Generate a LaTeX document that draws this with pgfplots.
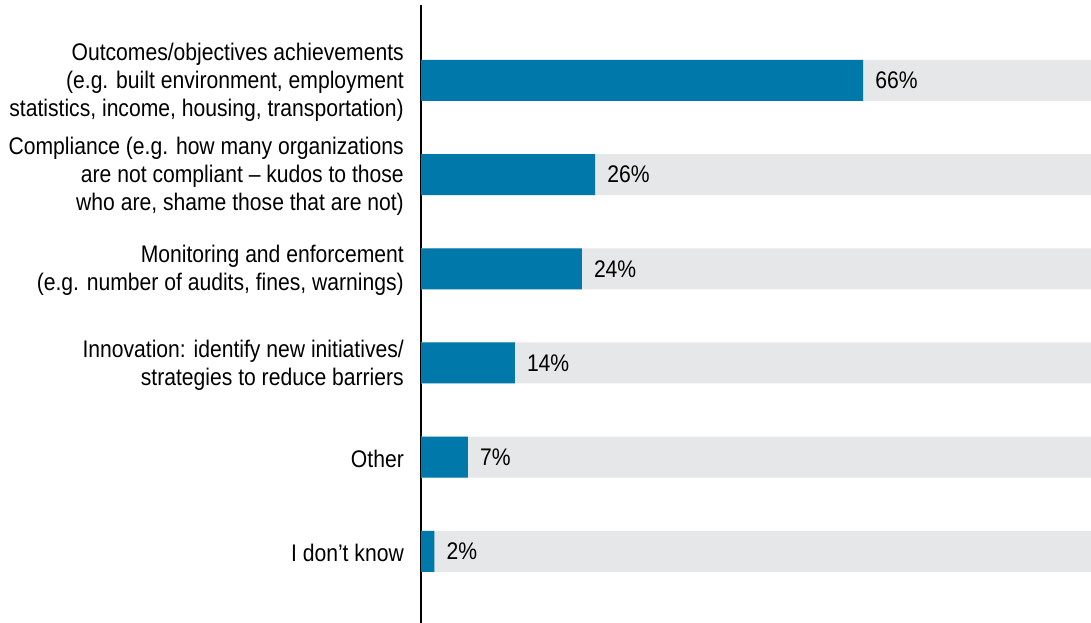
\documentclass[border=0pt]{standalone}
\usepackage{fontspec}
\setmainfont[FakeStretch=0.88]{Liberation Sans}
\usepackage{pgfplots}
\pgfplotsset{compat=1.18}
\definecolor{barblue}{RGB}{0,120,170}
\definecolor{bargray}{RGB}{230,231,232}
\begin{document}
\begin{tikzpicture}
\useasboundingbox (0,0) rectangle (1091pt,623pt);
\begin{axis}[at={(421pt,0pt)}, anchor=south west, scale only axis,
  width=670pt, height=618pt,
  xbar, bar width=41pt, bar shift=0pt,
  xmin=0, xmax=100, ymin=-0.8, ymax=5.76, y dir=reverse,
  axis x line=none, axis y line*=left,
  y axis line style={black, line width=1.3pt},
  /pgf/number format/assume math mode=true,
  ytick={0,1,2,3,4,5}, major tick length=0pt,
  yticklabels={{Outcomes/objectives achievements\\(e.g. built environment, employment\\statistics, income, housing, transportation)},
    {Compliance (e.g. how many organizations\\are not compliant – kudos to those\\who are, shame those that are not)},
    {Monitoring and enforcement\\(e.g. number of audits, fines, warnings)},
    {Innovation: identify new initiatives/\\strategies to reduce barriers},
    {Other},
    {I don’t know}},
  yticklabel style={align=right, font=\fontsize{24}{28}\selectfont, inner sep=0pt, xshift=-17pt, yshift=-2pt},
  clip=false,
]
\addplot[fill=bargray, draw=none] coordinates {(100,0) (100,1) (100,2) (100,3) (100,4) (100,5)};
\addplot[fill=barblue, draw=none,
  nodes near coords={\pgfmathprintnumber{\pgfplotspointmeta}\%},
  nodes near coords style={anchor=west, inner sep=0pt, xshift=12pt, font=\fontsize{24}{28}\selectfont, text=black}]
  coordinates {(66,0) (26,1) (24,2) (14,3) (7,4) (2,5)};
\end{axis}
\end{tikzpicture}
\end{document}
